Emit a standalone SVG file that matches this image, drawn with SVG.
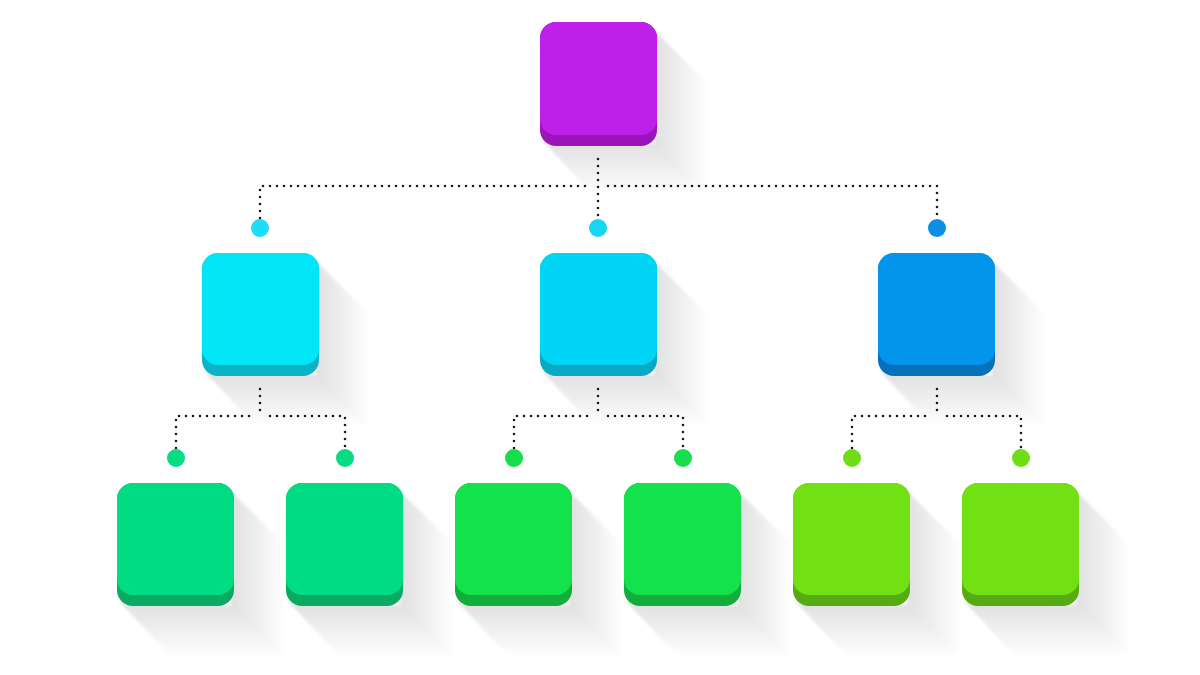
<svg xmlns="http://www.w3.org/2000/svg" width="1200" height="675" viewBox="0 0 1200 675">
<defs>
<linearGradient id="shr" gradientUnits="userSpaceOnUse" x1="114" y1="0" x2="168" y2="0">
<stop offset="0" stop-color="#000" stop-opacity="0.12"/>
<stop offset="0.6" stop-color="#000" stop-opacity="0.05"/>
<stop offset="1" stop-color="#000" stop-opacity="0"/>
</linearGradient>
<linearGradient id="shb" gradientUnits="userSpaceOnUse" x1="0" y1="120" x2="0" y2="174">
<stop offset="0" stop-color="#000" stop-opacity="0.12"/>
<stop offset="0.6" stop-color="#000" stop-opacity="0.05"/>
<stop offset="1" stop-color="#000" stop-opacity="0"/>
</linearGradient>
<filter id="bl" x="-20%" y="-20%" width="140%" height="140%"><feGaussianBlur stdDeviation="1.5"/></filter>
<g id="shadow" filter="url(#bl)">
<polygon points="112,6 168,62 168,176 114,122" fill="url(#shr)"/>
<polygon points="2,118 114,122 168,176 56,176" fill="url(#shb)"/>
</g>
</defs>
<style>
.dot{fill:none;stroke:#1a1a1a;stroke-width:2.6;stroke-linecap:round;stroke-dasharray:0 7}
</style>
<rect width="1200" height="675" fill="#fff"/>
<g id="connectors">
<path class="dot" d="M598,159 V218 M260,218 V186 H588 M608,186 H937 V218"/>
<path class="dot" d="M260,389 V414 M176,448 V416 H250 M270,416 H345 V448"/>
<path class="dot" d="M598,389 V414 M514,448 V416 H588 M608,416 H683 V448"/>
<path class="dot" d="M937,389 V414 M852,448 V416 H927 M947,416 H1021 V448"/>
<circle cx="260" cy="228" r="9" fill="#1CDDF3"/>
<circle cx="598" cy="228" r="9" fill="#18D5F2"/>
<circle cx="937" cy="228" r="9" fill="#0A8EE6"/>
<circle cx="176" cy="458" r="9" fill="#08DC82"/>
<circle cx="345" cy="458" r="9" fill="#08DC82"/>
<circle cx="514" cy="458" r="9" fill="#18DD4C"/>
<circle cx="683" cy="458" r="9" fill="#18DD4C"/>
<circle cx="852" cy="458" r="9" fill="#6FDD18"/>
<circle cx="1021" cy="458" r="9" fill="#6FDD18"/>
</g>
<g id="root" transform="translate(540,22)"><use href="#shadow"/><rect width="117" height="124" rx="16" fill="#9A16B8"/><rect width="117" height="113" rx="16" fill="#BE1FE9"/></g>
<g id="l2a" transform="translate(202,253)"><use href="#shadow"/><rect width="117" height="123" rx="16" fill="#0BB3C6"/><rect width="117" height="112" rx="16" fill="#00E6F7"/></g>
<g id="l2b" transform="translate(540,253)"><use href="#shadow"/><rect width="117" height="123" rx="16" fill="#08A8C6"/><rect width="117" height="112" rx="16" fill="#00D5F5"/></g>
<g id="l2c" transform="translate(878,253)"><use href="#shadow"/><rect width="117" height="123" rx="16" fill="#0670B8"/><rect width="117" height="112" rx="16" fill="#0394EB"/></g>
<g id="l3a" transform="translate(117,483)"><use href="#shadow"/><rect width="117" height="123" rx="16" fill="#0BAA63"/><rect width="117" height="112" rx="16" fill="#00DC84"/></g>
<g id="l3b" transform="translate(286,483)"><use href="#shadow"/><rect width="117" height="123" rx="16" fill="#0BAA63"/><rect width="117" height="112" rx="16" fill="#00DC84"/></g>
<g id="l3c" transform="translate(455,483)"><use href="#shadow"/><rect width="117" height="123" rx="16" fill="#12AD3A"/><rect width="117" height="112" rx="16" fill="#14E24C"/></g>
<g id="l3d" transform="translate(624,483)"><use href="#shadow"/><rect width="117" height="123" rx="16" fill="#12AD3A"/><rect width="117" height="112" rx="16" fill="#14E24C"/></g>
<g id="l3e" transform="translate(793,483)"><use href="#shadow"/><rect width="117" height="123" rx="16" fill="#56AA12"/><rect width="117" height="112" rx="16" fill="#71E114"/></g>
<g id="l3f" transform="translate(962,483)"><use href="#shadow"/><rect width="117" height="123" rx="16" fill="#56AA12"/><rect width="117" height="112" rx="16" fill="#71E114"/></g>
</svg>
